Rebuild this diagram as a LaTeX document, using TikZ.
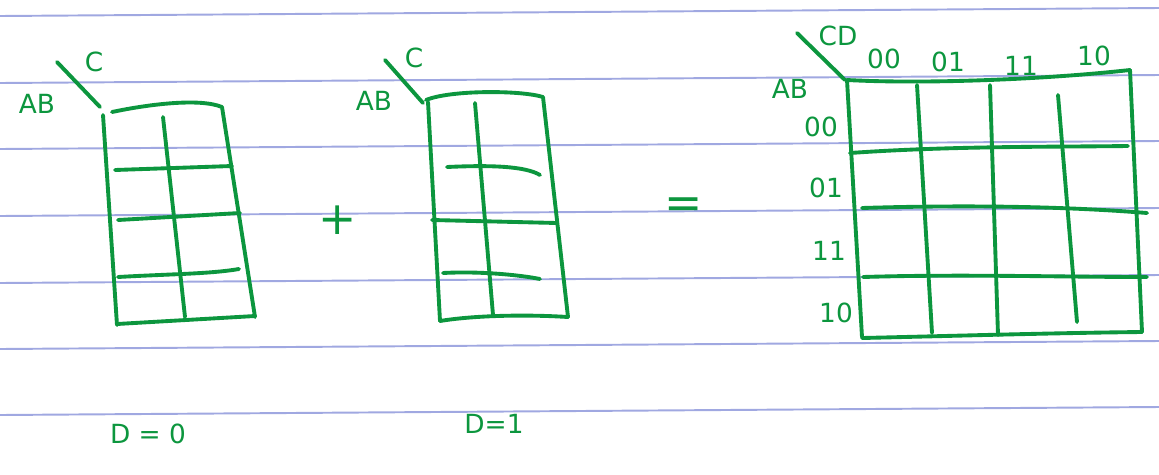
\documentclass[tikz,border=0pt]{standalone}
\usepackage{fontspec}
\setmainfont{DejaVu Sans}
\usetikzlibrary{positioning}

\definecolor{inkgreen}{RGB}{12,150,62}
\definecolor{ruleblue}{RGB}{160,168,225}

\begin{document}
\begin{tikzpicture}[
    x=0.02cm, y=-0.02cm,
    rule/.style={ruleblue, line width=1.1pt},
    ink/.style={inkgreen, line width=2.2pt, line cap=round, line join=round},
    lbl/.style={text=inkgreen, inner sep=0pt, font=\fontsize{15}{18}\selectfont},
    bigsign/.style={text=inkgreen, inner sep=0pt, font=\fontsize{26}{30}\selectfont}
]

\useasboundingbox[fill=white] (0,0) rectangle (1159,474);

% Ruled paper
\foreach \yl/\yr in {16/8, 83/75, 149/141, 216/208, 283/275, 349/341, 415/407}
    \draw[rule] (0,\yl) -- (1159,\yr);

% Map for D = 0
\draw[ink] (103,115) -- (117,325);
\draw[ink] (112,112) .. controls (150,104) and (200,98) .. (222,107) -- (255,317);
\draw[ink] (117,324) -- (255,316);
\draw[ink] (163,117) -- (185,317);
\draw[ink] (115,170) -- (232,166);
\draw[ink] (118,220) -- (240,213);
\draw[ink] (118,277) .. controls (170,274) and (210,274) .. (239,269);
\draw[ink] (100,107) -- (57,62);
\node[lbl] (cLeft) at (94,62) {C};
\node[lbl] (abLeft) at (37,104) {AB};

% Map for D = 1
\draw[ink] (428,102) -- (440,321);
\draw[ink] (426,100) .. controls (450,90) and (520,90) .. (543,97) -- (568,317);
\draw[ink] (440,321) .. controls (470,316) and (520,314) .. (568,317);
\draw[ink] (475,103) -- (493,315);
\draw[ink] (447,167) .. controls (490,165) and (525,166) .. (540,175);
\draw[ink] (432,220) -- (557,223);
\draw[ink] (443,273) .. controls (480,271) and (520,275) .. (540,279);
\draw[ink] (423,103) -- (385,60);
\node[lbl] (cMid) at (414,58) {C};
\node[lbl] (abMid) at (374,101) {AB};

% Signs
\node[bigsign] (plus) at (338,220) {+};
\node[bigsign] (equals) at (684,208) {=};

% Full map
\draw[ink] (847,80) .. controls (920,84) and (1040,80) .. (1130,70);
\draw[ink] (847,80) -- (862,337);
\draw[ink] (1130,70) -- (1142,332);
\draw[ink] (862,338) .. controls (950,336) and (1050,333) .. (1142,332);
\draw[ink] (917,85) -- (932,333);
\draw[ink] (990,85) -- (998,335);
\draw[ink] (1058,95) -- (1077,322);
\draw[ink] (850,153) .. controls (950,146) and (1050,147) .. (1128,146);
\draw[ink] (862,208) .. controls (960,205) and (1060,206) .. (1147,213);
\draw[ink] (863,277) .. controls (960,274) and (1060,277) .. (1147,277);
\draw[ink] (845,80) -- (797,33);
\node[lbl] (cd) at (838,36) {CD};
\node[lbl] (ab) at (790,89) {AB};

% Column and row labels
\foreach \x/\y/\t [count=\i] in {884/59/00, 948/62/01, 1021/66/11, 1094/56/10}
    \node[lbl] (col\i) at (\x,\y) {\t};
\foreach \x/\y/\t [count=\i] in {821/127/00, 826/188/01, 829/251/11, 836/313/10}
    \node[lbl] (row\i) at (\x,\y) {\t};

% Captions
\node[lbl] (dzero) at (148,434) {D = 0};
\node[lbl] (done) at (494,424) {D=1};

\end{tikzpicture}
\end{document}
